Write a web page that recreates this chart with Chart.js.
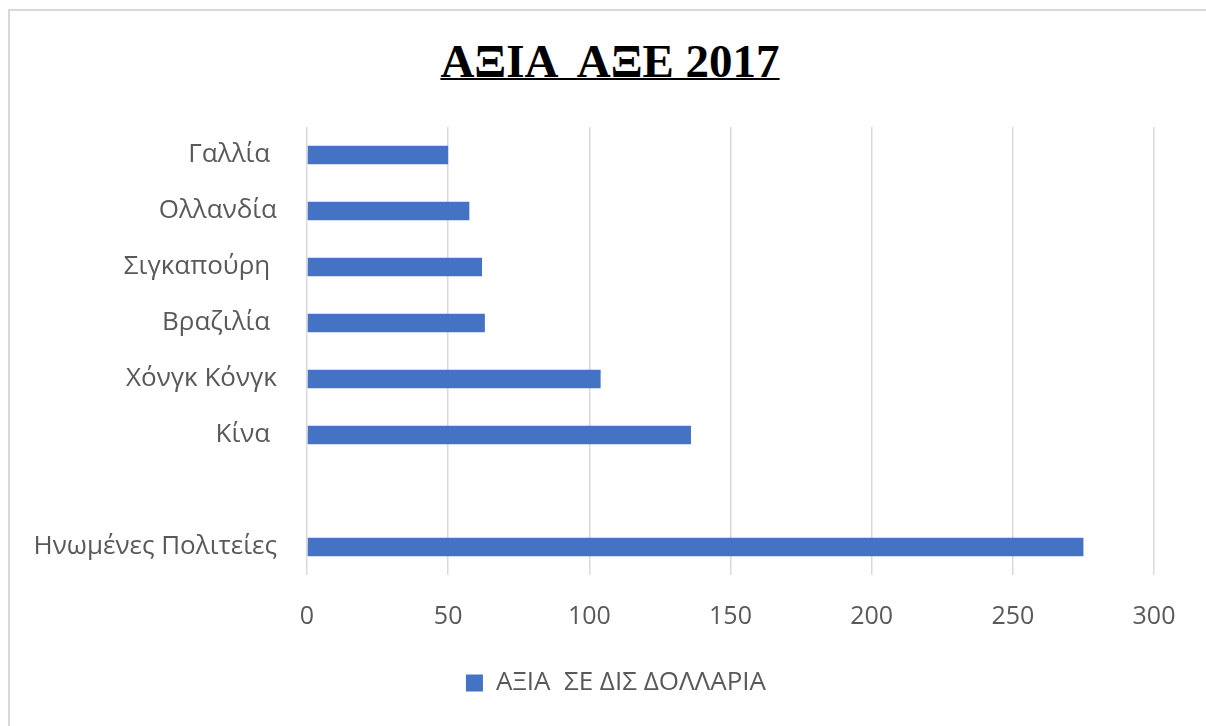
<!DOCTYPE html>
<html>
<head>
<meta charset="utf-8">
<script src="https://cdn.jsdelivr.net/npm/chart.js@4"></script>
<style>
  body { margin: 0; background: #fff; }
  #frame {
    position: absolute; left: 8px; top: 9px; width: 1300px; height: 800px;
    border: 2px solid #d9d9d9; box-sizing: border-box;
  }
  #title {
    position: absolute; left: 7px; top: 34px; width: 1206px; text-align: center;
    font-family: "Liberation Serif", "Times New Roman", serif; font-weight: bold;
    font-size: 47px; color: #000; text-decoration: underline; text-decoration-thickness: 2px;
    white-space: pre;
  }
  #wrap { position: absolute; left: 0; top: 0; width: 1206px; height: 726px; }
</style>
</head>
<body>
<div id="frame"></div>
<div id="title">ΑΞΙΑ  ΑΞΕ 2017</div>
<div id="wrap"><canvas id="chart" width="1206" height="726"></canvas></div>
<script>
// Countries top to bottom (blank slot between China and USA as in the source)
const countries = ["Γαλλία ", "Ολλανδία", "Σιγκαπούρη ", "Βραζιλία ", "Χόνγκ Κόνγκ", "Κίνα ", "", "Ηνωμένες Πολιτείες"];
const values = [50, 57.5, 62, 63, 104, 136, null, 275];
const seriesName = "ΑΞΙΑ  ΣΕ ΔΙΣ ΔΟΛΛΑΡΙΑ";
const xTicks = [0, 50, 100, 150, 200, 250, 300];

const textColor = "#595959";
const gridColor = "#d9d9d9";
const font = "'Open Sans', 'Noto Sans', sans-serif";

// legend sits a bit right of the canvas centre in the original
const shiftLegend = {
  id: "shiftLegend",
  afterLayout(chart) {
    chart.legend.left += 34;
    chart.legend.right += 34;
  },
};

function initChart() {
  const ctx = document.getElementById("chart").getContext("2d");
  new Chart(ctx, {
    type: "bar",
    data: {
      labels: countries,
      datasets: [
        {
          label: seriesName,
          data: values,
          backgroundColor: "#4472c4",
          borderWidth: 0,
          categoryPercentage: 0.66,
          barPercentage: 0.5,
        },
      ],
    },
    options: {
      indexAxis: "y",
      responsive: false,
      animation: false,
      layout: { padding: { top: 127, left: 10, right: 52, bottom: 20 } },
      scales: {
        x: {
          min: 0,
          max: 300,
          afterBuildTicks: (scale) => {
            scale.ticks = xTicks.map((v) => ({ value: v }));
          },
          afterFit: (scale) => {
            scale.height = 85;
          },
          grid: { color: gridColor, lineWidth: 1.5, drawTicks: false },
          border: { display: false },
          ticks: { color: textColor, padding: 27, font: { family: font, size: 25 } },
        },
        y: {
          afterFit: (scale) => {
            scale.width = 297;
          },
          grid: { display: false, drawTicks: false },
          border: { display: false },
          ticks: { color: textColor, padding: 30, font: { family: font, size: 26 } },
        },
      },
      plugins: {
        legend: {
          position: "bottom",
          labels: {
            color: textColor,
            boxWidth: 17,
            boxHeight: 17,
            padding: 10,
            font: { family: font, size: 26 },
          },
        },
        tooltip: { enabled: false },
      },
    },
    plugins: [shiftLegend],
  });
}

initChart();
</script>
</body>
</html>
